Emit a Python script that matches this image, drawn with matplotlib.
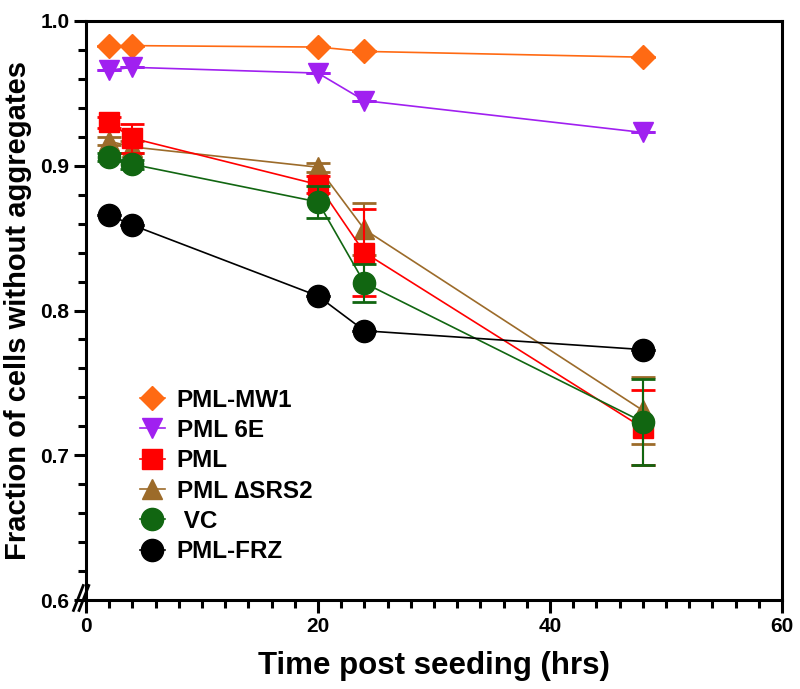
import matplotlib
matplotlib.use("Agg")
import matplotlib.pyplot as plt
from matplotlib.ticker import MultipleLocator

plt.rcParams['font.family'] = ['Liberation Sans', 'DejaVu Sans']
plt.rcParams['font.weight'] = 'bold'

time_hrs = [2, 4, 20, 24, 48]
labels = ["PML-MW1", "PML 6E", "PML", "PML \u2206SRS2", " VC", "PML-FRZ"]
pml_mw1 = [0.983, 0.983, 0.982, 0.979, 0.975]
pml_6e = [0.966, 0.968, 0.964, 0.945, 0.923]
pml = [0.930, 0.919, 0.887, 0.840, 0.719]
pml_srs2 = [0.917, 0.913, 0.899, 0.856, 0.731]
vc = [0.906, 0.901, 0.875, 0.819, 0.723]
pml_frz = [0.866, 0.859, 0.810, 0.786, 0.773]
err_mw1 = [0.0, 0.0, 0.0, 0.0, 0.0]
err_6e = [0.0, 0.0, 0.0, 0.0, 0.0]
err_pml = [0.004, 0.010, 0.006, 0.030, 0.026]
err_srs2 = [0.003, 0.004, 0.003, 0.018, 0.023]
err_vc = [0.003, 0.003, 0.011, 0.013, 0.030]
err_frz = [0.0, 0.0, 0.0, 0.0, 0.0]

series = [pml_mw1, pml_6e, pml, pml_srs2, vc, pml_frz]
errors = [err_mw1, err_6e, err_pml, err_srs2, err_vc, err_frz]
colors = ["#ff6a13", "#a020f0", "#ff0000", "#9c6b2a", "#116611", "#000000"]
markers = ["D", "v", "s", "^", "o", "o"]
msizes = [12, 14, 15, 14, 16, 16]
zorders = [3, 3, 4, 3, 5, 6]

fig = plt.figure(figsize=(8, 6.89), dpi=100)
ax = fig.add_axes([86/800, 89/689, 696/800, 579/689])

for ys, es, c, m, ms, lab, z in zip(series, errors, colors, markers, msizes, labels, zorders):
    ax.errorbar(time_hrs, ys, yerr=es, color=c, marker=m, markersize=ms,
                linewidth=1.2, elinewidth=1.5, capsize=8.5, capthick=2,
                label=lab, zorder=z, clip_on=False)

ax.set_xlim(0, 60)
ax.set_ylim(0.6, 1.0)
ax.xaxis.set_major_locator(MultipleLocator(20))
ax.xaxis.set_minor_locator(MultipleLocator(2))
ax.yaxis.set_major_locator(MultipleLocator(0.1))
ax.yaxis.set_minor_locator(MultipleLocator(0.02))
ax.set_yticks([0.6, 0.7, 0.8, 0.9, 1.0])
ax.set_yticklabels(["0.6", "0.7", "0.8", "0.9", "1.0"])

for s in ax.spines.values():
    s.set_linewidth(2.2)
ax.tick_params(which='major', length=9, width=2.2, labelsize=15, pad=3)
ax.tick_params(which='minor', length=6, width=2.2)

ax.set_xlabel("Time post seeding (hrs)", fontsize=22.5, fontweight='bold', labelpad=11)
ax.set_ylabel("Fraction of cells without aggregates", fontsize=21, fontweight='bold', labelpad=6)

# axis break marks
for dx in (-0.012, -0.004):
    ax.plot([dx - 0.006, dx + 0.008], [-0.018, 0.025], transform=ax.transAxes,
            color='black', linewidth=2, clip_on=False, zorder=10)

handles, labs = ax.get_legend_handles_labels()
handles = [h[0] for h in handles]
leg = ax.legend(handles, labs, loc='upper left', bbox_to_anchor=(0.078, 0.365),
                frameon=False, fontsize=17.5, handlelength=1.0, handletextpad=0.5,
                labelspacing=0.3, borderpad=0, borderaxespad=0, markerscale=1.0)

fig.savefig("out.png", dpi=100)
